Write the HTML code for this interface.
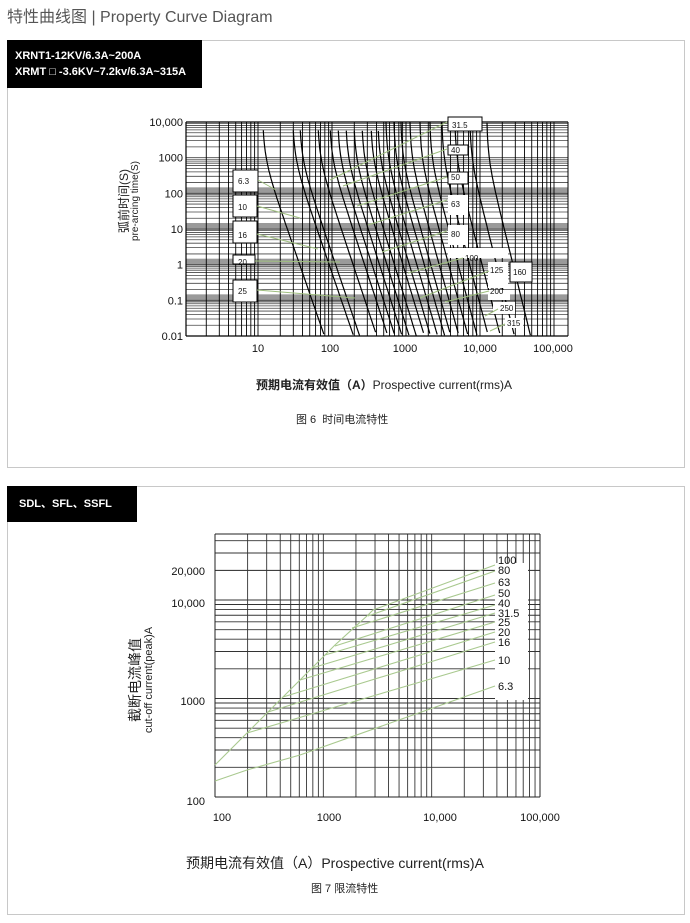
<!DOCTYPE html>
<html><head><meta charset="utf-8">
<style>
body{margin:0;width:690px;height:923px;background:#fff;font-family:"Liberation Sans","Noto Sans CJK SC",sans-serif;overflow:hidden;position:relative}
.t{position:absolute;white-space:nowrap}
.panel{position:absolute;border:1px solid #c8c8c8;left:7px;width:676px}
.blk{position:absolute;background:#000;color:#fff;font-size:11px;font-weight:bold}
svg{position:absolute;left:0;top:0}
</style></head><body>
<div class="t" style="left:7px;top:3px;font-size:16px;color:#555">特性曲线图 | Property Curve Diagram</div>
<div class="panel" style="top:40px;height:426px"></div>
<div class="blk" style="left:7px;top:40px;width:195px;height:48px;line-height:16px;padding:0;"><div style="padding:8px 0 0 8px">XRNT1-12KV/6.3A~200A<br>XRMT □ -3.6KV~7.2kv/6.3A~315A</div></div>
<div class="panel" style="top:486px;height:427px"></div>
<div class="blk" style="left:7px;top:486px;width:130px;height:36px;line-height:36px"><span style="padding-left:12px">SDL、SFL、SSFL</span></div>
<svg id="s" width="690" height="923" xmlns="http://www.w3.org/2000/svg" font-family="Liberation Sans, Noto Sans CJK SC, sans-serif"></svg>
<div class="t" style="left:256px;top:376px;font-size:12px;color:#222"><b>预期电流有效值（A）</b>Prospective current(rms)A</div>
<div class="t" style="left:296px;top:411px;font-size:11px;color:#222">图 6&nbsp; 时间电流特性</div>
<div class="t" style="left:186px;top:853px;font-size:14px;color:#222">预期电流有效值（A）Prospective current(rms)A</div>
<div class="t" style="left:311px;top:880px;font-size:11px;color:#222">图 7 限流特性</div>
<script>
var s=document.getElementById('s'),h='';
function L(x1,y1,x2,y2,c,w){h+='<line x1="'+x1+'" y1="'+y1+'" x2="'+x2+'" y2="'+y2+'" stroke="'+c+'" stroke-width="'+(w||1)+'"/>';}
function T(x,y,t,sz,a,extra){h+='<text x="'+x+'" y="'+y+'" font-size="'+sz+'" text-anchor="'+(a||'start')+'" fill="#111" '+(extra||'')+'>'+t+'</text>';}
function R(x,y,w,hh,f,st){h+='<rect x="'+x+'" y="'+y+'" width="'+w+'" height="'+hh+'" fill="'+f+'" stroke="'+(st||'none')+'"/>';}
// ---- chart 1 ----
var X0=186,X1=568,Y0=122,Y1=336,DX=74,DY=35.67,xb=184;
function cx(lg){return xb+lg*DX;}
R(X0,Y0,X1-X0,Y1-Y0,'#fff');
[2,3,4,5].forEach(function(k){R(X0,Y0+k*DY-6,X1-X0,7,'#9a9a9a');});
for(var d=0;d<6;d++){for(var m=1;m<=9;m++){var y=Y1-(d+Math.log10(m))*DY;L(X0,y,X1,y,'#444',0.8);}}
L(X0,Y0,X1,Y0,'#000',1.2);
for(var d=0;d<6;d++){for(var m=1;m<=9;m++){var x=cx(d+Math.log10(m));if(x>=X0&&x<=X1)L(x,Y0,x,Y1,'#000',0.9);}}
L(X0,Y1,X1,Y1,'#000',1.2);L(X0,Y0,X0,Y1,'#000',1.2);L(X1,Y0,X1,Y1,'#000',1);
var tops=[263,293,300,318,330,338,346,354,362,371,378,386,394,401,410,420,430,442,455,470,487];
tops.forEach(function(xt,i){var D=62-i*0.9,p='';
 var T0=1000,n=Math.log10(T0/0.01+1)*DX/D, x0=xt-DX*Math.log10(Math.pow(T0/10000+1,1/n));
 for(var k=0;k<=80;k++){var x=x0+0.02+Math.pow(k/80,1.4)*(D+20);var r=Math.pow(10,(x-x0)/DX);var t=T0/(Math.pow(r,n)-1);var y=Y0+(4-Math.log10(t))*DY;if(y<Y0)continue;if(y>Y1)break;p+=(p?'L':'M')+x.toFixed(1)+','+y.toFixed(1);}
 h+='<path d="'+p+'" fill="none" stroke="#000" stroke-width="1.2"/>';});
var G='#9fbf7f';
[['6.3',233,170,25,22,181,276,190],['10',233,195,24,22,207,300,218],['16',233,221,24,22,235,318,249],['20',233,255,22,9,262,340,262],['25',233,280,24,22,291,355,298]].forEach(function(a){R(a[1],a[2],a[3],a[4],'#fff','#000');T(a[1]+5,a[5]+3,a[0],8);L(a[1]+a[3],a[5]-1,a[6],a[7],G,1);});
R(448,117,34,14,'#fff','#000');T(452,128,'31.5',8);L(447,122,330,180,G);
R(448,145,20,10,'#fff','#000');T(451,153,'40',8);L(447,149,343,186,G);
R(448,172,20,12,'#fff','#000');T(451,180,'50',8);L(447,177,357,206,G);
R(448,195,20,20,'#fff');T(451,207,'63',8);L(447,200,368,225,G);
R(448,225,20,20,'#fff');T(451,237,'80',8);L(447,231,382,252,G);
R(448,248,60,10,'#fff');R(488,262,20,26,'#fff');R(488,290,22,10,'#fff');
T(465,261,'100',8);L(463,258,408,273,G);
T(490,273,'125',8);L(489,271,420,298,G);
R(510,262,22,20,'#fff','#000');T(513,275,'160',8);
T(490,294,'200',8);L(489,291,445,302,G);
R(493,302,22,12,'#fff');T(500,311,'250',8);L(498,309,485,316,G);
R(505,318,18,10,'#fff');T(507,326,'315',8);L(505,324,490,331,G);
['10,000','1000','100','10','1','0.1','0.01'].forEach(function(t,i){T(183,Y0+i*DY+4,t,11,'end');});
[['10',258],['100',330],['1000',405],['10,000',480],['100,000',553]].forEach(function(a){T(a[1],352,a[0],11,'middle');});
h+='<g transform="translate(128,201) rotate(-90)"><text x="0" y="0" font-size="12" text-anchor="middle" fill="#222">弧前时间(S)</text><text x="0" y="10" font-size="10" text-anchor="middle" fill="#222">pre-arcing time(S)</text></g>';
// ---- chart 2 ----
var A0=215,A1=540,B0=534,B1=797,EY=98.5;
function px(lg){return A0+lg*(A1-A0)/3;}
function py(lg){return B1-lg*EY;}
for(var d=0;d<3;d++){for(var m=1;m<=9;m++){var x=px(d+Math.log10(m));L(x,B0,x,B1,'#333',0.9);}}
for(var d=0;d<3;d++){for(var m=1;m<=9;m++){var y=py(d+Math.log10(m));if(y>=B0)L(A0,y,A1,y,'#333',0.9);}}
L(A0,py(2.3),A1,py(2.3),'#333',0.9);
L(A0,B0,A1,B0,'#222',1);L(A0,B1,A1,B1,'#222',1);L(A0,B0,A0,B1,'#222',1);L(A1,B0,A1,B1,'#222',1);
R(495,563,33,137,'#fff');
var G2='#a9c98f';
h+='<path d="M215,765 L247,733 L268,712 L300,680 L335,645 L368,615 L373,610 L495,565" fill="none" stroke="'+G2+'" stroke-width="1.1"/>';
h+='<path d="M368,616 L495,571" fill="none" stroke="'+G2+'" stroke-width="1.1"/>';
h+='<path d="M215,781 L247,770 L300,755 L495,686" fill="none" stroke="'+G2+'" stroke-width="1.1"/>';
[[352,628,583],[335,646,595],[325,655,605],[312,668,613],[300,680,622],[283,697,632],[268,712,642],[247,733,660]].forEach(function(a){L(a[0],a[1],495,a[2],G2,1.1);});
[['100',560],['80',570],['63',582],['50',593],['40',603],['31.5',613],['25',622],['20',632],['16',642],['10',660],['6.3',686]].forEach(function(a){T(498,a[1]+4,a[0],11);});
[['20,000',575],['10,000',607],['1000',705],['100',805]].forEach(function(a){T(205,a[1],a[0],11,'end');});
[['100',222],['1000',329],['10,000',440],['100,000',540]].forEach(function(a){T(a[1],821,a[0],11,'middle');});
h+='<g transform="translate(140,680) rotate(-90)"><text x="0" y="0" font-size="14" text-anchor="middle" fill="#222">截断电流峰值</text><text x="0" y="12" font-size="11" text-anchor="middle" fill="#222">cut-off current(peak)A</text></g>';
s.innerHTML=h;
</script>
</body></html>
